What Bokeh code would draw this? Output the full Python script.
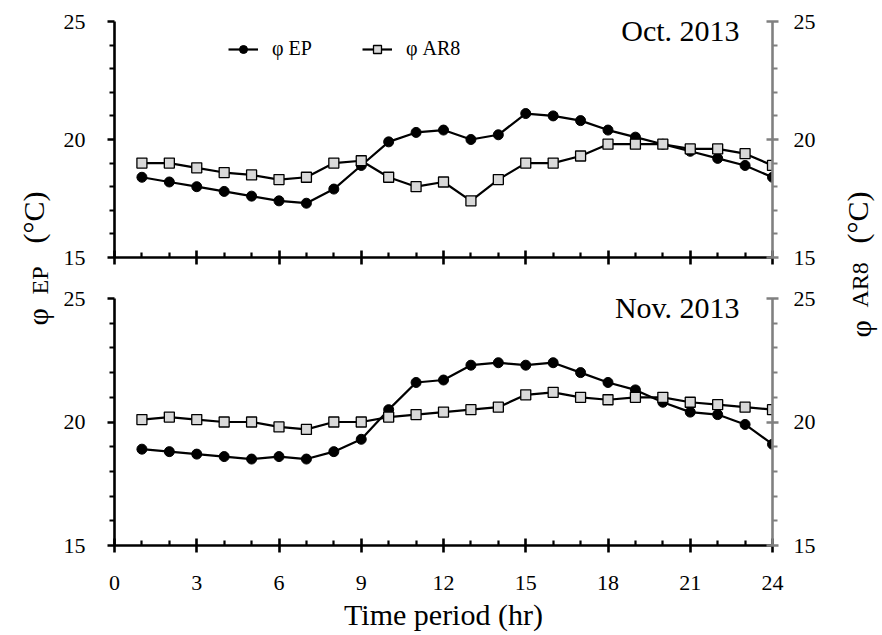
import math
from bokeh.plotting import figure
from bokeh.models import (Range1d, LinearAxis, FixedTicker, Label, Legend,
                          LegendItem, CustomJSTickFormatter)
from bokeh.layouts import row, column
from bokeh.embed import file_html
from bokeh.resources import INLINE

# ---------------- data ----------------
hours = list(range(1, 25))

oct_ep = [18.4, 18.2, 18.0, 17.8, 17.6, 17.4, 17.3, 17.9, 18.9, 19.9, 20.3, 20.4,
          20.0, 20.2, 21.1, 21.0, 20.8, 20.4, 20.1, 19.8, 19.5, 19.2, 18.9, 18.4]
oct_ar8 = [19.0, 19.0, 18.8, 18.6, 18.5, 18.3, 18.4, 19.0, 19.1, 18.4, 18.0, 18.2,
           17.4, 18.3, 19.0, 19.0, 19.3, 19.8, 19.8, 19.8, 19.6, 19.6, 19.4, 18.9]

nov_ep = [18.9, 18.8, 18.7, 18.6, 18.5, 18.6, 18.5, 18.8, 19.3, 20.5, 21.6, 21.7,
          22.3, 22.4, 22.3, 22.4, 22.0, 21.6, 21.3, 20.8, 20.4, 20.3, 19.9, 19.1]
nov_ar8 = [20.1, 20.2, 20.1, 20.0, 20.0, 19.8, 19.7, 20.0, 20.0, 20.2, 20.3, 20.4,
           20.5, 20.6, 21.1, 21.2, 21.0, 20.9, 21.0, 21.0, 20.8, 20.7, 20.6, 20.5]

x_ticks = [0, 3, 6, 9, 12, 15, 18, 21, 24]
y_ticks = [15, 20, 25]
panel_titles = ["Oct. 2013", "Nov. 2013"]
x_title = "Time period (hr)"

FONT = "Liberation Serif"
GRAY = "#808080"

x_minor = [h for h in range(0, 25) if h not in x_ticks]
y_minor = [v for v in range(15, 26) if v not in y_ticks]


def style_axis(ax, color, tick_in, tick_out, minor_in, minor_out, standoff):
    ax.axis_line_color = color
    ax.axis_line_width = 2.6
    ax.major_tick_line_color = color
    ax.major_tick_line_width = 2.6
    ax.minor_tick_line_color = color
    ax.minor_tick_line_width = 2.2
    ax.major_tick_in = tick_in
    ax.major_tick_out = tick_out
    ax.minor_tick_in = minor_in
    ax.minor_tick_out = minor_out
    ax.major_label_text_font = FONT
    ax.major_label_text_font_size = "22px"
    ax.major_label_text_color = "black"
    ax.major_label_standoff = standoff


def panel(ep, ar, title, title_x, title_y, height, mb_top, mb_bottom, bottom_labels):
    p = figure(width=762, height=height, x_range=Range1d(0, 24), y_range=Range1d(15, 25),
               output_backend="svg", toolbar_location=None,
               x_axis_type=None, y_axis_type=None,
               min_border_left=53, min_border_right=50,
               min_border_top=mb_top, min_border_bottom=mb_bottom)
    p.outline_line_color = None
    p.background_fill_color = "white"

    yl = LinearAxis(ticker=FixedTicker(ticks=y_ticks, minor_ticks=y_minor))
    style_axis(yl, "black", 0, 7, 0, 5, 22)
    p.add_layout(yl, "left")

    yr = LinearAxis(ticker=FixedTicker(ticks=y_ticks, minor_ticks=y_minor))
    style_axis(yr, GRAY, 6, 6, 0, 5, 15)
    p.add_layout(yr, "right")

    xb = LinearAxis(ticker=FixedTicker(ticks=x_ticks, minor_ticks=x_minor))
    style_axis(xb, "black", 7, 7, 5, 0, 23)
    if bottom_labels:
        xb.axis_label = x_title
        xb.axis_label_text_font = FONT
        xb.axis_label_text_font_size = "30px"
        xb.axis_label_text_font_style = "normal"
        xb.axis_label_text_color = "black"
        xb.axis_label_standoff = 5
    else:
        xb.formatter = CustomJSTickFormatter(code="return ''")
    p.add_layout(xb, "below")

    l1 = p.line(hours, ep, line_color="black", line_width=2.2)
    s1 = p.scatter(hours, ep, marker="circle", size=10, fill_color="black",
                   line_color="black")
    l2 = p.line(hours, ar, line_color="black", line_width=2.2)
    s2 = p.scatter(hours, ar, marker="square", size=10, fill_color="#d9d9d9",
                   line_color="black", line_width=1.3)

    p.add_layout(Label(x=title_x, y=title_y, text=title, text_font=FONT,
                       text_font_size="30px", text_align="right",
                       text_baseline="middle", text_color="black"))
    return p, (l1, s1, l2, s2)


top, r_top = panel(oct_ep, oct_ar8, panel_titles[0], 22.8, 24.6, 276, 21, 19, False)
bot, _ = panel(nov_ep, nov_ar8, panel_titles[1], 22.8, 24.64, 357, 22, 88, True)

legend = Legend(items=[LegendItem(label="φ EP", renderers=[r_top[0], r_top[1]]),
                       LegendItem(label="φ AR8", renderers=[r_top[2], r_top[3]])],
                orientation="horizontal", location=(114, 197),
                padding=0, margin=0, spacing=50, label_standoff=14,
                glyph_width=30, glyph_height=20,
                label_text_font=FONT, label_text_font_size="20px",
                label_text_color="black",
                border_line_color=None, background_fill_alpha=0)
top.add_layout(legend)

TOTAL_H = 633


def label_fig(width, pieces):
    f = figure(width=width, height=TOTAL_H, x_range=Range1d(0, width),
               y_range=Range1d(0, TOTAL_H),
               x_axis_type=None, y_axis_type=None, min_border=0,
               output_backend="svg", toolbar_location=None)
    f.outline_line_color = None
    for txt, x, y, size in pieces:
        f.add_layout(Label(x=x, y=y, text=txt, angle=math.pi / 2, text_font=FONT,
                           text_font_size=size, text_align="left",
                           text_baseline="middle", text_color="black"))
    return f


left = label_fig(60, [("φ", 37, 308, "30px"), ("EP", 39, 339, "24px"),
                      ("(°C)", 33, 390, "30px")])
right = label_fig(58, [("φ", 38, 296, "30px"), ("AR8", 37, 326, "24px"),
                       ("(°C)", 35, 390, "30px")])

layout = row(left, column(top, bot), right)

open("out.html", "w").write(file_html(layout, INLINE))
